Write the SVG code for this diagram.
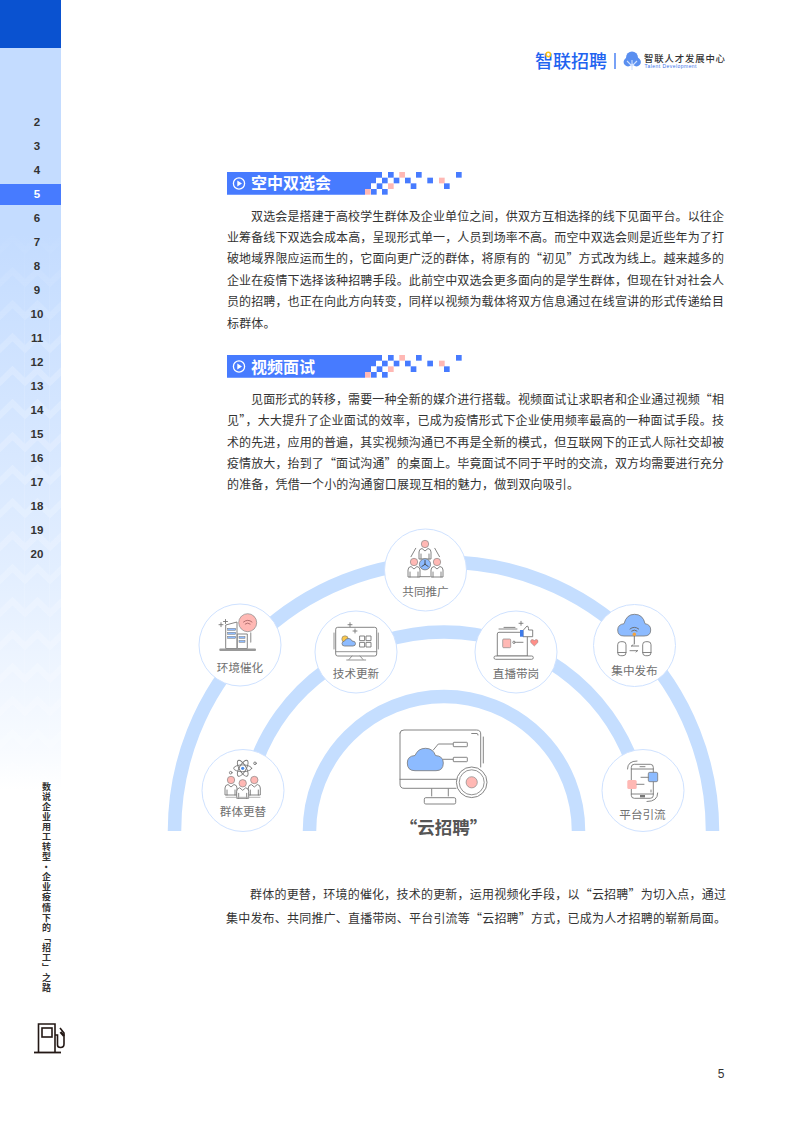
<svg xmlns="http://www.w3.org/2000/svg" width="793" height="1122" viewBox="0 0 793 1122">
<style>
text{font-family:"Noto Sans CJK SC","Noto Sans",sans-serif}
.body{font-size:12px;fill:#333}
.num{font-family:"Liberation Sans",Arial,sans-serif;font-size:11.5px;font-weight:700;fill:#333;text-anchor:middle}
.head{font-size:16px;font-weight:700;fill:#fff}
.lab{font-size:11.6px;fill:#707070;text-anchor:middle}
.arc{fill:none;stroke:#c5deff;stroke-width:13.5}
.nc{fill:#fff;stroke:#cfe2ff;stroke-width:1}
.ln{fill:none;stroke:#777;stroke-width:.9;stroke-linecap:round;stroke-linejoin:round}
.lnf{fill:#fff;stroke:#777;stroke-width:.9;stroke-linejoin:round}
.bl{fill:#8dbbff;stroke:#777;stroke-width:.8}
.pk{fill:#ffb8b4;stroke:#888;stroke-width:.7}
.pb{fill:#477bff}.pp{fill:#ffb8b4}
</style>
<defs>
<linearGradient id="side" x1="0" y1="48" x2="0" y2="790" gradientUnits="userSpaceOnUse">
<stop offset="0" stop-color="#c4dcff"/><stop offset=".25" stop-color="#c4dcff"/><stop offset=".7" stop-color="#e2eeff"/><stop offset=".95" stop-color="#f8fbff"/><stop offset="1" stop-color="#fff"/>
</linearGradient>
<linearGradient id="fadeIn" x1="0" y1="226" x2="0" y2="790" gradientUnits="userSpaceOnUse">
<stop offset="0" stop-color="#fff" stop-opacity="0"/><stop offset=".25" stop-color="#fff" stop-opacity="1"/><stop offset="1" stop-color="#fff" stop-opacity="1"/>
</linearGradient>
<mask id="chevMask" maskUnits="userSpaceOnUse" x="0" y="226" width="61" height="564"><rect x="0" y="226" width="61" height="564" fill="url(#fadeIn)"/></mask>
<pattern id="chev" x="0" y="226" width="25" height="33" patternUnits="userSpaceOnUse">
<path d="M-2,26 L12.5,12 L27,26" fill="none" stroke="#fff" stroke-width="6"/>
<path d="M25,0 V33" stroke="#fff" stroke-width="1.2"/>
</pattern>
<g id="person">
<path class="lnf" d="M-6,15 V8 Q-6,5 -3,4.5 L0,7 L3,4.5 Q6,5 6,8 V15 Z"/>
<path class="ln" d="M-4,10 V15 M4,10 V15"/>
<circle class="pk" cx="0" cy="0" r="3.7"/>
</g>
<g id="spark"><path class="ln" d="M0,-2 V2 M-2,0 H2"/></g>
<g id="bar">
<path class="pb" d="M227,172 H382 V177.67 H376 V183.33 H371 V189 H365 V194.67 H227 Z"/>
<rect class="pb" x="388" y="172" width="5.67" height="5.67"/>
<rect class="pp" x="399.3" y="172" width="5.67" height="5.67"/>
<rect class="pb" x="416" y="172" width="5.67" height="5.67"/>
<rect class="pb" x="456" y="172" width="5.67" height="5.67"/>
<rect class="pb" x="382" y="177.67" width="5.67" height="5.67"/>
<rect class="pb" x="393.7" y="177.67" width="5.67" height="5.67"/>
<rect class="pb" x="405" y="177.67" width="5.67" height="5.67"/>
<rect class="pb" x="427.3" y="177.67" width="5.67" height="5.67"/>
<rect class="pp" x="439" y="177.67" width="5.67" height="5.67"/>
<rect class="pb" x="376.7" y="183.33" width="5.67" height="5.67"/>
<rect class="pp" x="388" y="183.33" width="5.67" height="5.67"/>
<rect class="pb" x="410.7" y="183.33" width="5.67" height="5.67"/>
<rect class="pb" x="444" y="183.33" width="5.67" height="5.67"/>
<rect class="pp" x="365" y="189" width="5.67" height="5.67"/>
<rect class="pb" x="371" y="189" width="5.67" height="5.67"/>
<rect class="pb" x="382" y="189" width="5.67" height="5.67"/>
<circle cx="239" cy="183.5" r="5.6" fill="none" stroke="#fff" stroke-width="1.3"/>
<path d="M237.3,180.6 L242,183.5 L237.3,186.4 Z" fill="#fff"/>
</g>
</defs>

<g id="sidebar">
<rect x="0" y="48" width="61" height="742" fill="url(#side)"/>
<rect x="0" y="226" width="61" height="564" fill="url(#chev)" opacity=".2" mask="url(#chevMask)"/>
<rect x="0" y="0" width="61" height="48" fill="#0a52d0"/>
<rect x="0" y="184" width="61" height="21" fill="#477bff"/>
<g>
<text class="num" x="37" y="126">2</text><text class="num" x="37" y="150">3</text><text class="num" x="37" y="174">4</text>
<text class="num" x="37" y="198" style="fill:#fff">5</text>
<text class="num" x="37" y="222">6</text><text class="num" x="37" y="246">7</text><text class="num" x="37" y="270">8</text><text class="num" x="37" y="294">9</text>
<text class="num" x="37" y="318">10</text><text class="num" x="37" y="342">11</text><text class="num" x="37" y="366">12</text><text class="num" x="37" y="390">13</text><text class="num" x="37" y="414">14</text><text class="num" x="37" y="438">15</text><text class="num" x="37" y="462">16</text><text class="num" x="37" y="486">17</text><text class="num" x="37" y="510">18</text><text class="num" x="37" y="534">19</text><text class="num" x="37" y="558">20</text>
</g>
<text x="46.5" y="782" style="writing-mode:vertical-rl;font-size:9px;font-weight:700;fill:#333;letter-spacing:1.05px">数说企业用工转型·企业疫情下的「招工」之路</text>
<g id="pump" fill="none" stroke="#231815" stroke-width="1.6">
<path d="M38.5,1052 V1024 H55 V1052"/><rect x="42" y="1028" width="10" height="9"/>
<path d="M34,1052.5 H61" stroke-width="1.8"/>
<path d="M55,1035 H57.5 V1045 Q57.5,1047.5 60.5,1047.5 Q64,1047.5 64,1044 V1033 L60,1028"/>
<path d="M60.5,1032 L64,1036" stroke-width="2.4"/>
</g>
</g>

<g id="logo">
<text x="535" y="67.5" textLength="72" lengthAdjust="spacing" style="font-size:18px;font-weight:500;fill:#1f63f0">智联招聘</text>
<circle cx="548.3" cy="54.5" r="2.2" fill="#fff" stroke="#fcc419" stroke-width="1.5"/>
<path d="M615,53 V69" stroke="#1f63f0" stroke-width="1.2"/>
<g fill="#5a8ff0"><circle cx="632" cy="57.5" r="6"/><circle cx="628" cy="62" r="4.4"/><circle cx="636.5" cy="62" r="4.4"/></g>
<path d="M632,70 V60 M632,66 L627,61 M632,66 L637,61" stroke="#cfe0ff" stroke-width="1.1" fill="none"/>
<text x="644" y="61.5" textLength="81" lengthAdjust="spacing" style="font-size:9.4px;font-weight:500;fill:#333">智联人才发展中心</text>
<text x="644.5" y="68" textLength="52" lengthAdjust="spacing" style="font-family:'Liberation Sans',sans-serif;font-size:5px;fill:#3b74e8">Talent Development</text>
</g>

<g id="section1">
<use href="#bar"/>
<text class="head" x="251" y="189">空中双选会</text>
<text class="body" x="251" y="220.5" textLength="473" lengthAdjust="spacing">双选会是搭建于高校学生群体及企业单位之间，供双方互相选择的线下见面平台。以往企</text>
<text class="body" x="227" y="242" textLength="497" lengthAdjust="spacing">业筹备线下双选会成本高，呈现形式单一，人员到场率不高。而空中双选会则是近些年为了打</text>
<text class="body" x="227" y="263" textLength="497" lengthAdjust="spacing">破地域界限应运而生的，它面向更广泛的群体，将原有的“初见”方式改为线上。越来越多的</text>
<text class="body" x="227" y="284.5" textLength="497" lengthAdjust="spacing">企业在疫情下选择该种招聘手段。此前空中双选会更多面向的是学生群体，但现在针对社会人</text>
<text class="body" x="227" y="306" textLength="497" lengthAdjust="spacing">员的招聘，也正在向此方向转变，同样以视频为载体将双方信息通过在线宣讲的形式传递给目</text>
<text class="body" x="227" y="327.5" textLength="48.5" lengthAdjust="spacing">标群体。</text>
</g>
<g id="section2">
<use href="#bar" y="183"/>
<text class="head" x="251" y="372.5">视频面试</text>
<text class="body" x="251" y="404" textLength="473" lengthAdjust="spacing">见面形式的转移，需要一种全新的媒介进行搭载。视频面试让求职者和企业通过视频“相</text>
<text class="body" x="227" y="425" textLength="497" lengthAdjust="spacing">见”，大大提升了企业面试的效率，已成为疫情形式下企业使用频率最高的一种面试手段。技</text>
<text class="body" x="227" y="446.5" textLength="497" lengthAdjust="spacing">术的先进，应用的普遍，其实视频沟通已不再是全新的模式，但互联网下的正式人际社交却被</text>
<text class="body" x="227" y="468" textLength="497" lengthAdjust="spacing">疫情放大，抬到了“面试沟通”的桌面上。毕竟面试不同于平时的交流，双方均需要进行充分</text>
<text class="body" x="227" y="489" textLength="352" lengthAdjust="spacing">的准备，凭借一个小的沟通窗口展现互相的魅力，做到双向吸引。</text>
</g>

<g id="connectors">
<path class="arc" d="M174.5,831 A269,269 0 0 1 712.5,831"/>
<path class="arc" d="M253.1,770 A201,201 0 0 1 634.9,770"/>
<path class="arc" d="M309.5,831 A134.5,134.5 0 0 1 578.5,831"/>
</g>

<g id="node-center">
<path class="ln" d="M457,779.3 H400 M400,733 Q400,730 404,730 H476.5 Q480.7,730 480.7,734 V767 M400,733 V784 Q400,788.3 404,788.3 H456"/>
<path class="ln" d="M483.3,737 V763 M471.7,733.5 H477 Q478,733.5 478,735"/>
<path class="ln" d="M431.7,789 V796 M448.3,789 V796"/>
<rect class="lnf" x="424.3" y="797.7" width="31.4" height="6.3" rx="1.5"/>
<path class="bl" d="M415,770.7 Q407.3,770.7 407.3,763 Q407.3,756 415,755.5 Q418,748.3 425.5,748.3 Q433,748.3 435.5,755.5 Q443.3,756 443.3,763 Q443.3,770.7 436,770.7 Z"/>
<path class="ln" d="M433.3,750 L438.3,744 H452.7 M443.3,759.3 H452.7"/>
<rect class="lnf" x="453.3" y="742.3" width="14" height="4.4" rx=".6"/>
<rect class="lnf" x="453.3" y="757.3" width="14" height="4.4" rx=".6"/>
<circle cx="471.7" cy="782.3" r="15.3" fill="#fff" stroke="#777" stroke-width=".9"/>
<circle cx="471.7" cy="782.3" r="12.5" fill="none" stroke="#777" stroke-width=".8"/>
<circle class="pk" cx="471.7" cy="782.3" r="5.6"/>
<text x="443.5" y="833.5" text-anchor="middle" style="font-size:17.5px;font-weight:700;fill:#555">“云招聘”</text>
</g>

<g id="node-gongtong">
<circle class="nc" cx="425.5" cy="570" r="41"/>
<use href="#person" x="425" y="544"/>
<use href="#person" x="414" y="562"/>
<use href="#person" x="437" y="562"/>
<path class="ln" d="M411,556.7 L415.7,548.3 M439.5,556.7 L434.8,548.3 M420,576.7 H430"/>
<circle class="bl" cx="425" cy="564.3" r="5.6"/>
<path class="ln" d="M425,564.3 V560.5 M425,564.3 L421.8,566.5 M425,564.3 L428.2,566.5" style="stroke:#444"/>
<text class="lab" x="425.5" y="595.5">共同推广</text>
</g>

<g id="node-huanjing">
<circle class="nc" cx="240" cy="645" r="41"/>
<path class="lnf" d="M225.7,648.5 V625 L237,622 V648.5 Z"/>
<rect class="lnf" x="237.3" y="634" width="10" height="14.5"/>
<g class="bl" style="stroke-width:.5"><rect x="227.7" y="628.3" width="8" height="2"/><rect x="227.7" y="632.3" width="8" height="2"/><rect x="227.7" y="636.3" width="8" height="2"/><rect x="239" y="636.5" width="6" height="1.8"/><rect x="239" y="640.5" width="6" height="1.8"/></g>
<rect x="219.3" y="648.6" width="36.7" height="2.4" rx="1" fill="#999"/>
<circle class="pk" cx="247.7" cy="622.7" r="9"/>
<path class="ln" d="M243.5,622 Q247.7,618.5 252,622 M245.2,624 Q247.7,622 250.2,624" style="stroke:#a66"/>
<path class="ln" d="M250.7,633 V642" style="stroke:#aaa;stroke-width:1.4"/>
<use href="#spark" x="221" y="624.7"/><use href="#spark" x="225.5" y="621.5"/>
<text class="lab" x="240" y="671.5">环境催化</text>
</g>

<g id="node-jishu">
<circle class="nc" cx="356" cy="652" r="41"/>
<rect class="lnf" x="335.7" y="627.3" width="41" height="28.7" rx="2"/>
<path class="ln" d="M335.7,651.7 H376.7 M334,633 V649 M378.3,633 V649 M346.7,660 H365.7 M352,656 L349,659.5 M360,656 L363,659.5" style="stroke:#888"/>
<circle cx="345" cy="639" r="3.2" fill="#fcc84a" stroke="#777" stroke-width=".6"/>
<path class="bl" d="M344.5,646 Q342,646 342,643.5 Q342,641.5 344.5,641 Q346,638 349,638.5 Q351.5,639 352,641 Q355.5,641 355.5,643.5 Q355.5,646 353,646 Z"/>
<g class="ln"><rect x="360" y="636" width="4.6" height="4.6"/><rect x="366.4" y="636" width="4.6" height="4.6"/><rect x="360" y="642.4" width="4.6" height="4.6"/><rect x="366.4" y="642.4" width="4.6" height="4.6"/></g>
<use href="#spark" x="350" y="624.7"/><use href="#spark" x="355" y="631"/>
<text class="lab" x="356" y="677.5">技术更新</text>
</g>

<g id="node-zhibo">
<circle class="nc" cx="516" cy="652" r="41"/>
<path class="lnf" d="M497.3,656 V634 Q497.3,632.3 499,632.3 H525.6 Q527.3,632.3 527.3,634 V656 Z"/>
<rect class="lnf" x="494" y="656" width="39.3" height="3.3" rx="1.6"/>
<rect class="pk" x="502.7" y="639" width="8" height="8.7" rx="1"/>
<circle class="ln" cx="514" cy="642.3" r="1.2"/>
<path class="ln" d="M516.5,642.3 H523 M499,629 H517 M504,627.4 H515"/>
<path class="lnf" d="M523,636.7 V630.5 L527,626 Q528.5,626 528.5,628.5 V630 H532.7 V636.7 Z"/>
<rect x="520" y="630" width="3.4" height="6.7" fill="#3f7bea"/>
<path d="M534.3,646 L530.8,642.6 Q530,640 532,639.6 Q533.7,639.4 534.3,640.8 Q535,639.4 536.7,639.6 Q538.6,640 537.8,642.6 Z" fill="#ff8f88" stroke="#888" stroke-width=".5"/>
<use href="#spark" x="521" y="623.3"/>
<text class="lab" x="516" y="677.5">直播带岗</text>
</g>

<g id="node-jizhong">
<circle class="nc" cx="634.5" cy="645.5" r="41"/>
<path class="bl" d="M624,636 Q617.7,636 617.7,630 Q617.7,624.5 624,623.7 Q626.5,614.3 634.5,614.3 Q643,614.3 645,623.7 Q650.7,624.5 650.7,630 Q650.7,636 644,636 Z"/>
<path class="ln" d="M630,629 Q634.3,625.5 638.7,629 M631.7,631 Q634.3,629 637,631 M634.3,635 V644" style="stroke:#666"/>
<circle cx="634.3" cy="634.3" r="1.7" fill="#f5a33b"/>
<rect class="lnf" x="617.7" y="641.7" width="8.3" height="14" rx="3"/>
<rect class="lnf" x="642.7" y="641.7" width="8.3" height="14" rx="3"/>
<path class="ln" d="M617.7,652.5 H626 M642.7,652.5 H651 M631.5,646 H638.7 M631.5,646 L633,644.8 M630,650.7 H637.5 M637.5,650.7 L636,652"/>
<text class="lab" x="634.5" y="674.5">集中发布</text>
</g>

<g id="node-qunti">
<circle class="nc" cx="243" cy="790.5" r="41"/>
<g class="ln"><ellipse cx="242.7" cy="768.3" rx="9" ry="3.4"/><ellipse cx="242.7" cy="768.3" rx="9" ry="3.4" transform="rotate(60 242.7 768.3)"/><ellipse cx="242.7" cy="768.3" rx="9" ry="3.4" transform="rotate(-60 242.7 768.3)"/></g>
<circle cx="242.7" cy="768.3" r="1.6" fill="#4a8be8"/>
<circle class="ln" cx="255" cy="763.3" r="1.3"/><circle class="ln" cx="230.7" cy="772.7" r="1.3"/>
<use href="#person" x="231" y="780"/><use href="#person" x="254.3" y="780"/><use href="#person" x="242.7" y="783.3"/>
<path class="ln" d="M226,797.3 H260" style="stroke:#aaa"/>
<text class="lab" x="243" y="815.5">群体更替</text>
</g>

<g id="node-pingtai">
<circle class="nc" cx="643" cy="790.5" r="41"/>
<rect class="lnf" x="631.3" y="764.3" width="22" height="34" rx="3"/>
<path class="ln" d="M631.3,769 H653.3 M631.3,794 H653.3 M640,766.7 H645"/>
<rect x="640" y="795" width="5" height="2.4" fill="#777"/>
<path class="ln" d="M627.5,769 Q627.5,761 637,761 M647,801.5 Q657.7,801.5 657.7,793 M651,790 V792"/>
<rect class="bl" x="648.3" y="772.3" width="9.4" height="9.4" rx="1.5"/>
<rect x="627.3" y="780" width="9.4" height="9" rx="1.5" fill="#ffb8b4"/>
<path class="ln" d="M641,777.3 H648.3 M636.7,784.3 H644"/>
<text class="lab" x="642.5" y="818.5">平台引流</text>
</g>

<g id="section3">
<text class="body" x="250" y="898.5" textLength="476" lengthAdjust="spacing">群体的更替，环境的催化，技术的更新，运用视频化手段，以“云招聘”为切入点，通过</text>
<text class="body" x="226" y="923" textLength="500" lengthAdjust="spacing">集中发布、共同推广、直播带岗、平台引流等“云招聘”方式，已成为人才招聘的崭新局面。</text>
</g>
<text class="num" x="721" y="1077.5" style="font-weight:400;font-size:12px">5</text>
</svg>
